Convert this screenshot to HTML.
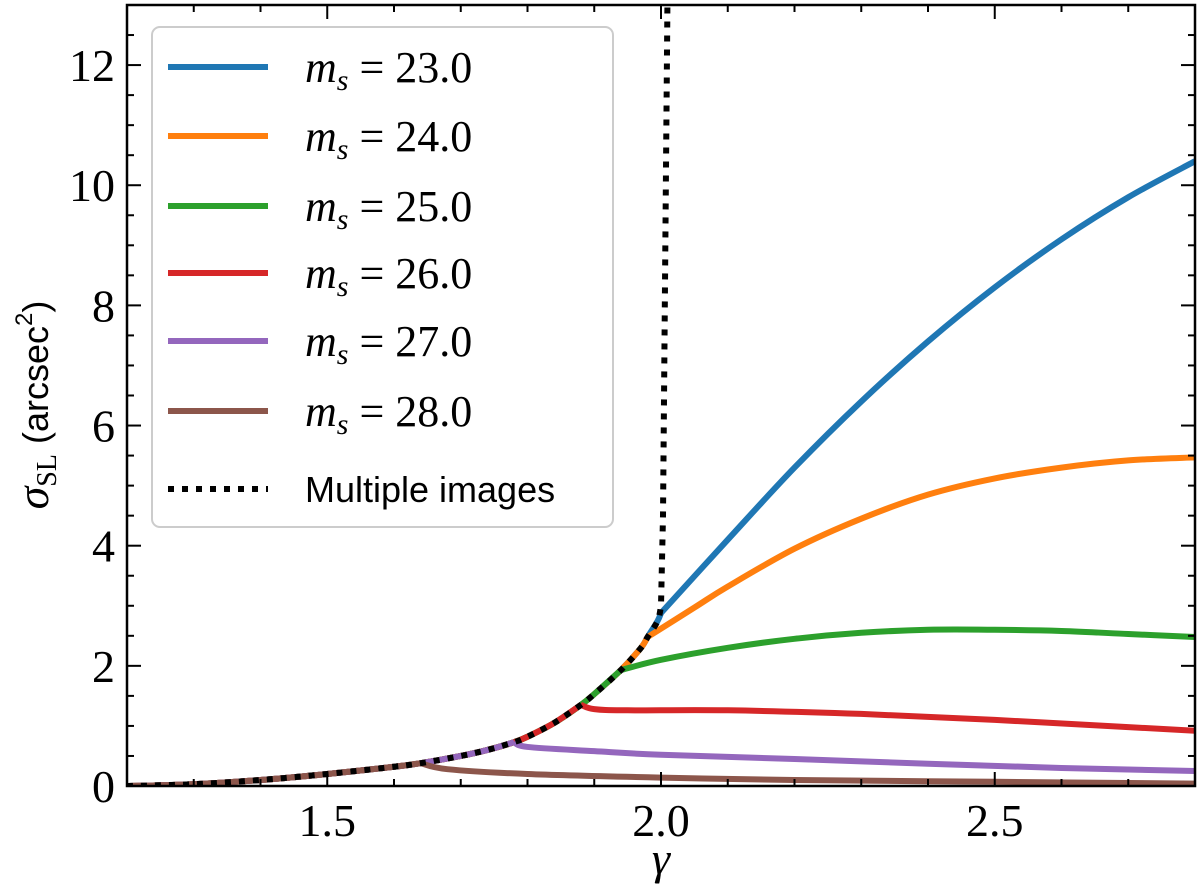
<!DOCTYPE html>
<html><head><meta charset="utf-8"><style>
html,body{margin:0;padding:0;background:#fff;}
svg{display:block;}
.tk{font-family:"Liberation Serif",serif;font-size:46px;fill:#000;}
.lg{font-family:"Liberation Serif",serif;font-size:44px;font-style:italic;}
.sans{font-family:"Liberation Sans",sans-serif;font-size:36px;}
</style></head><body>
<svg id="chart" width="1200" height="894" xmlns="http://www.w3.org/2000/svg"></svg>
<script>
const commonX=[1.2,1.3,1.4,1.5,1.6,1.64,1.7,1.74,1.78,1.8,1.84,1.88,1.9,1.94,1.97,1.98,1.995,2.0];
const commonY=[0,0.03,0.1,0.2,0.32,0.38,0.5,0.6,0.73,0.82,1.05,1.35,1.53,1.93,2.3,2.48,2.75,2.88];
const multiX=[1.2,1.3,1.4,1.5,1.6,1.64,1.7,1.74,1.78,1.8,1.84,1.88,1.9,1.94,1.97,1.98,1.995,2.0,2.003,2.01];
const multiY=[0,0.03,0.1,0.2,0.32,0.38,0.5,0.6,0.73,0.82,1.05,1.35,1.53,1.93,2.3,2.48,2.75,3.0,4.5,13.5];
const seriesLabels=["23.0","24.0","25.0","26.0","27.0","28.0"];
const colors=["#1f77b4","#ff7f0e","#2ca02c","#d62728","#9467bd","#8c564b"];
const tailX23=[2.1,2.2,2.3,2.4,2.5,2.6,2.7,2.8];
const tailY23=[4.1,5.3,6.4,7.4,8.3,9.1,9.8,10.4];
const tailX24=[2.05,2.1,2.2,2.3,2.4,2.5,2.6,2.7,2.8];
const tailY24=[2.97,3.32,3.95,4.45,4.85,5.12,5.3,5.42,5.47];
const tailX25=[2.0,2.1,2.2,2.3,2.4,2.5,2.6,2.7,2.8];
const tailY25=[2.1,2.3,2.45,2.55,2.6,2.6,2.58,2.53,2.48];
const tailX26=[1.9,1.95,2.1,2.3,2.5,2.7,2.8];
const tailY26=[1.28,1.26,1.26,1.2,1.1,0.98,0.92];
const tailX27=[1.8,1.9,2.0,2.2,2.4,2.6,2.8];
const tailY27=[0.65,0.58,0.52,0.45,0.37,0.3,0.25];
const tailX28=[1.68,1.8,2.0,2.2,2.5,2.8];
const tailY28=[0.28,0.2,0.14,0.1,0.07,0.04];
const kinkX=[2.0,1.98,1.94,1.88,1.78,1.64];
const xTicks=[1.5,2.0,2.5];
const xTickLabels=["1.5","2.0","2.5"];
const yTicks=[0,2,4,6,8,10,12];
const yTickLabels=["0","2","4","6","8","10","12"];

const L=127,R=1195,T=5,B=786,x0=1.2,x1=2.8,y0=0,y1=13;
const sx=v=>L+(v-x0)/(x1-x0)*(R-L);
const sy=v=>B-(v-y0)/(y1-y0)*(B-T);
const NS="http://www.w3.org/2000/svg";
const svg=document.getElementById('chart');
function mk(tag,attrs,parent){const e=document.createElementNS(NS,tag);for(const k in attrs)e.setAttribute(k,attrs[k]);(parent||svg).appendChild(e);return e;}
function smooth(xs,ys){
  const P=xs.map((x,j)=>[sx(x),sy(ys[j])]);
  let d='M'+P[0][0]+','+P[0][1];
  for(let i=0;i<P.length-1;i++){
    const p0=P[Math.max(0,i-1)],p1=P[i],p2=P[i+1],p3=P[Math.min(P.length-1,i+2)];
    const c1=[p1[0]+(p2[0]-p0[0])/6,p1[1]+(p2[1]-p0[1])/6];
    const c2=[p2[0]-(p3[0]-p1[0])/6,p2[1]-(p3[1]-p1[1])/6];
    d+=' C'+c1[0]+','+c1[1]+' '+c2[0]+','+c2[1]+' '+p2[0]+','+p2[1];
  }
  return d;
}
const defs=mk('defs',{});const cp=mk('clipPath',{id:'clip'},defs);mk('rect',{x:L,y:T,width:R-L,height:B-T},cp);
const plot=mk('g',{'clip-path':'url(#clip)'});


const tails=[[tailX23,tailY23],[tailX24,tailY24],[tailX25,tailY25],[tailX26,tailY26],[tailX27,tailY27],[tailX28,tailY28]];
tails.forEach((t,i)=>{
  const hx=[],hy=[];
  commonX.forEach((x,j)=>{if(x<=kinkX[i]+1e-9){hx.push(x);hy.push(commonY[j]);}});
  const tx=[hx[hx.length-1]].concat(t[0]), ty=[hy[hy.length-1]].concat(t[1]);
  const g=mk('g',{},plot);
  
  
  mk('path',{d:smooth(hx,hy),fill:'none',stroke:colors[i],'stroke-width':6},g);
  mk('path',{d:smooth(tx,ty),fill:'none',stroke:colors[i],'stroke-width':6,'stroke-linejoin':'round'},g);
});
const n=multiX.length;
const md=mk('path',{d:smooth(multiX.slice(0,n-2),multiY.slice(0,n-2))+' L'+sx(multiX[n-2])+','+sy(multiY[n-2])+' L'+sx(multiX[n-1])+','+sy(multiY[n-1]),fill:'none',stroke:'#000','stroke-width':6,'stroke-dasharray':'6 8'},plot);


const fr=mk('rect',{x:L,y:T,width:R-L,height:B-T,fill:'none',stroke:'#000','stroke-width':2.5});


for(let v=1.2;v<=2.8001;v+=0.1){const X=sx(v);const major=xTicks.some(t=>Math.abs(t-v)<1e-6);const len=major?14:7;
  mk('line',{x1:X,y1:B,x2:X,y2:B-len,stroke:'#000','stroke-width':2});mk('line',{x1:X,y1:T,x2:X,y2:T+len,stroke:'#000','stroke-width':2});}
xTicks.forEach((v,i)=>{const t=mk('text',{x:sx(v),y:B+50,'text-anchor':'middle',class:'tk'});t.textContent=xTickLabels[i];
  
  });
for(let v=0;v<=13.001;v+=0.5){const Y=sy(v);const major=Math.abs(v%2)<1e-6;const len=major?14:7;
  mk('line',{x1:L,y1:Y,x2:L+len,y2:Y,stroke:'#000','stroke-width':2});mk('line',{x1:R,y1:Y,x2:R-len,y2:Y,stroke:'#000','stroke-width':2});}
yTicks.forEach((v,i)=>{const t=mk('text',{x:L-12,y:sy(v)+16,'text-anchor':'end',class:'tk'});t.textContent=yTickLabels[i];
  
  });
const xt=mk('text',{x:661,y:874,'text-anchor':'middle',class:'tk','font-style':'italic'});xt.textContent='γ';


const yt=mk('text',{transform:'translate(48,405) rotate(-90)','text-anchor':'middle',class:'sans','font-size':'40'});
yt.innerHTML='<tspan font-family="Liberation Serif" font-style="italic" font-size="46">σ</tspan><tspan font-family="Liberation Serif" font-size="28" dy="8">SL</tspan><tspan dy="-8"> (arcsec</tspan><tspan font-size="24" dy="-16">2</tspan><tspan dy="16">)</tspan>';


const lg=mk('g',{});


mk('rect',{x:152,y:27,width:461,height:500,rx:8,fill:'#fff','fill-opacity':0.85,stroke:'#ccc','stroke-width':2},lg);
const ly=[67,136,206,273,341,411];
seriesLabels.forEach((s,i)=>{
  const g=mk('g',{},lg);
  
  
  mk('line',{x1:168,y1:ly[i],x2:268,y2:ly[i],stroke:colors[i],'stroke-width':6},g);
  const t=mk('text',{x:305,y:ly[i]+15,class:'lg'},g);
  t.innerHTML='m<tspan font-size="30" dy="8">s</tspan><tspan dy="-8" font-style="normal"> = '+s+'</tspan>';
});
const g7=mk('g',{},lg);


mk('line',{x1:168,y1:489,x2:268,y2:489,stroke:'#000','stroke-width':6,'stroke-dasharray':'6 8'},g7);
const t7=mk('text',{x:305,y:502,class:'sans'},g7);t7.textContent='Multiple images';
</script>
</body></html>
